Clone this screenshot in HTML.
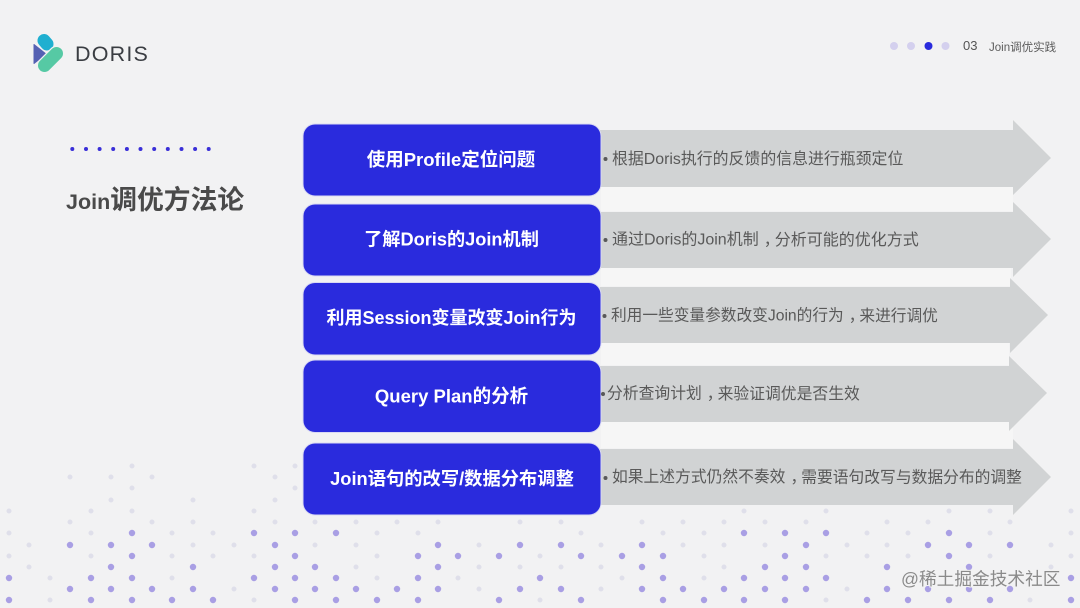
<!DOCTYPE html>
<html lang="zh">
<head>
<meta charset="utf-8">
<title>Join调优方法论</title>
<style>
html,body{margin:0;padding:0;background:#f2f2f3}
svg{display:block}
text{font-family:"Liberation Sans","Noto Sans CJK SC",sans-serif}
.b{font-size:18.5px;font-weight:700;fill:#fff;text-anchor:middle;dominant-baseline:central}
.t{font-size:16px;fill:#595959;dominant-baseline:central}
</style>
</head>
<body>
<svg xmlns="http://www.w3.org/2000/svg" width="1080" height="608" viewBox="0 0 1080 608">
<rect width="1080" height="608" fill="#f2f2f3"/>

<!-- background dots -->
<g fill="none" stroke-linecap="round">
<path stroke="#dfdfea" stroke-width="5" d="M132 466h0M254 466h0M295 466h0M70 477h0M111 477h0M152 477h0M275 477h0M132 488h0M295 488h0M111 500h0M193 500h0M275 500h0M9 511h0M91 511h0M132 511h0M254 511h0M744 511h0M826 511h0M949 511h0M990 511h0M1071 511h0M70 522h0M152 522h0M193 522h0M275 522h0M315 522h0M356 522h0M397 522h0M438 522h0M520 522h0M561 522h0M642 522h0M683 522h0M724 522h0M765 522h0M806 522h0M887 522h0M928 522h0M1010 522h0M9 533h0M91 533h0M172 533h0M213 533h0M377 533h0M418 533h0M581 533h0M663 533h0M704 533h0M867 533h0M908 533h0M990 533h0M1071 533h0M29 545h0M193 545h0M234 545h0M315 545h0M356 545h0M479 545h0M601 545h0M683 545h0M724 545h0M765 545h0M847 545h0M887 545h0M1051 545h0M9 556h0M91 556h0M172 556h0M213 556h0M254 556h0M377 556h0M540 556h0M704 556h0M826 556h0M867 556h0M908 556h0M990 556h0M1071 556h0M29 567h0M356 567h0M479 567h0M520 567h0M561 567h0M601 567h0M724 567h0M1051 567h0M50 578h0M172 578h0M377 578h0M458 578h0M622 578h0M704 578h0M234 589h0M479 589h0M601 589h0M847 589h0M50 600h0M254 600h0M540 600h0M826 600h0M1030 600h0"/>
<path stroke="#a99fe4" stroke-width="6.4" d="M132 533h0M254 533h0M295 533h0M336 533h0M744 533h0M785 533h0M826 533h0M949 533h0M70 545h0M111 545h0M152 545h0M275 545h0M438 545h0M520 545h0M561 545h0M642 545h0M806 545h0M928 545h0M969 545h0M1010 545h0M132 556h0M295 556h0M418 556h0M458 556h0M499 556h0M581 556h0M622 556h0M663 556h0M785 556h0M949 556h0M111 567h0M193 567h0M275 567h0M315 567h0M438 567h0M642 567h0M765 567h0M806 567h0M887 567h0M969 567h0M9 578h0M91 578h0M132 578h0M254 578h0M295 578h0M336 578h0M418 578h0M540 578h0M663 578h0M744 578h0M785 578h0M826 578h0M1071 578h0M70 589h0M111 589h0M152 589h0M193 589h0M275 589h0M315 589h0M356 589h0M397 589h0M438 589h0M520 589h0M561 589h0M642 589h0M683 589h0M724 589h0M765 589h0M806 589h0M887 589h0M928 589h0M969 589h0M1010 589h0M9 600h0M91 600h0M132 600h0M172 600h0M213 600h0M295 600h0M336 600h0M377 600h0M418 600h0M499 600h0M581 600h0M663 600h0M704 600h0M744 600h0M785 600h0M867 600h0M908 600h0M949 600h0M990 600h0M1071 600h0"/>
</g>

<!-- logo -->
<path d="M34 44.5 L46 54 L34 63.5 Z" fill="#5561b3" stroke="#5561b3" stroke-width="1" stroke-linejoin="round"/>
<path d="M44 40.500 L47 44" stroke="#1fafd0" stroke-width="13" stroke-linecap="round" fill="none"/>
<path d="M56.500 53.500 L44.500 65.500" stroke="#f2f2f3" stroke-width="15.500" stroke-linecap="round" fill="none"/>
<path d="M56.500 53.500 L44.500 65.500" stroke="#56c9a4" stroke-width="13" stroke-linecap="round" fill="none"/>
<text x="75" y="61" font-size="21.500" letter-spacing="1.200" fill="#3a3d42">DORIS</text>

<!-- header nav -->
<circle cx="894" cy="46" r="4" fill="#d4d0ee"/>
<circle cx="911" cy="46" r="4" fill="#d4d0ee"/>
<circle cx="928.500" cy="46" r="4" fill="#2a2bdd"/>
<circle cx="945.500" cy="46" r="4" fill="#d4d0ee"/>
<text x="963" y="50" font-size="13" fill="#555">03</text>
<text x="989" y="51" font-size="11.500" fill="#5c5c5c">Join调优实践</text>

<!-- title -->
<g fill="#3a2fd8">
<circle cx="72.300" cy="149" r="2"/><circle cx="86" cy="149" r="2"/><circle cx="99.600" cy="149" r="2"/><circle cx="113.200" cy="149" r="2"/><circle cx="126.900" cy="149" r="2"/><circle cx="140.500" cy="149" r="2"/><circle cx="154.200" cy="149" r="2"/><circle cx="167.800" cy="149" r="2"/><circle cx="181.500" cy="149" r="2"/><circle cx="195.100" cy="149" r="2"/><circle cx="208.700" cy="149" r="2"/>
</g>
<text x="66" y="209" font-size="26.800" font-weight="700" fill="#4a4a4a"><tspan font-size="21.500">Join</tspan>调优方法论</text>

<!-- reflections -->
<g fill="#f6f6f6">
<rect x="601" y="187" width="412" height="24"/>
<rect x="601" y="268" width="410" height="18"/>
<rect x="601" y="343" width="408" height="22"/>
<rect x="601" y="422" width="412" height="26"/>
</g>

<!-- arrows -->
<g fill="#d1d3d4">
<path d="M600 130H1013V120L1051 158L1013 195V187H600Z"/>
<path d="M600 212H1013V202L1051 239L1013 277V268H600Z"/>
<path d="M600 287H1010V278L1048 315L1010 353V343H600Z"/>
<path d="M600 366H1009V356L1047 393L1009 431V422H600Z"/>
<path d="M600 449H1013V439L1051 477L1013 515V505H600Z"/>
</g>

<!-- boxes -->
<g fill="#2a2bdd" stroke="#d9d9f3" stroke-width="1">
<rect x="303" y="124" width="298" height="72" rx="12"/>
<rect x="303" y="204" width="298" height="72" rx="12"/>
<rect x="303" y="282.500" width="298" height="72.500" rx="12"/>
<rect x="303" y="360" width="298" height="72.500" rx="12"/>
<rect x="303" y="443" width="298" height="72" rx="12"/>
</g>
<text class="b" x="451" y="159.500">使用Profile定位问题</text>
<text class="b" x="451.500" y="239.500" style="font-size:18.200px">了解Doris的Join机制</text>
<text class="b" x="451.500" y="318" style="font-size:18px">利用Session变量改变Join行为</text>
<text class="b" x="451.500" y="396" style="font-size:18.500px">Query Plan的分析</text>
<text class="b" x="452" y="478.500" style="font-size:18.300px">Join语句的改写/数据分布调整</text>

<!-- bullet text -->
<g fill="#595959">
<circle cx="605.500" cy="159" r="2"/>
<circle cx="605.500" cy="240" r="2"/>
<circle cx="604.500" cy="316" r="2"/>
<circle cx="603" cy="394" r="2"/>
<circle cx="605.500" cy="478" r="2"/>
</g>
<text class="t" x="612" y="159.500" style="font-size:15.900px">根据Doris执行的反馈的信息进行瓶颈定位</text>
<text class="t" x="612" y="240">通过Doris的Join机制<tspan dx="5">，</tspan><tspan dx="-5">分析可能的优化方式</tspan></text>
<text class="t" x="611" y="316" style="font-size:15.700px">利用一些变量参数改变Join的行为<tspan dx="5">，</tspan><tspan dx="-5">来进行调优</tspan></text>
<text class="t" x="607" y="394" style="font-size:15.800px">分析查询计划<tspan dx="5">，</tspan><tspan dx="-5">来验证调优是否生效</tspan></text>
<text class="t" x="612" y="477.500" style="font-size:15.770px">如果上述方式仍然不奏效<tspan dx="5">，</tspan><tspan dx="-5">需要语句改写与数据分布的调整</tspan></text>

<!-- watermark -->
<text x="901" y="585" font-size="17.700" fill="#8a8a8a" stroke="#f2f2f3" stroke-width="2" paint-order="stroke">@稀土掘金技术社区</text>
</svg>
</body>
</html>
